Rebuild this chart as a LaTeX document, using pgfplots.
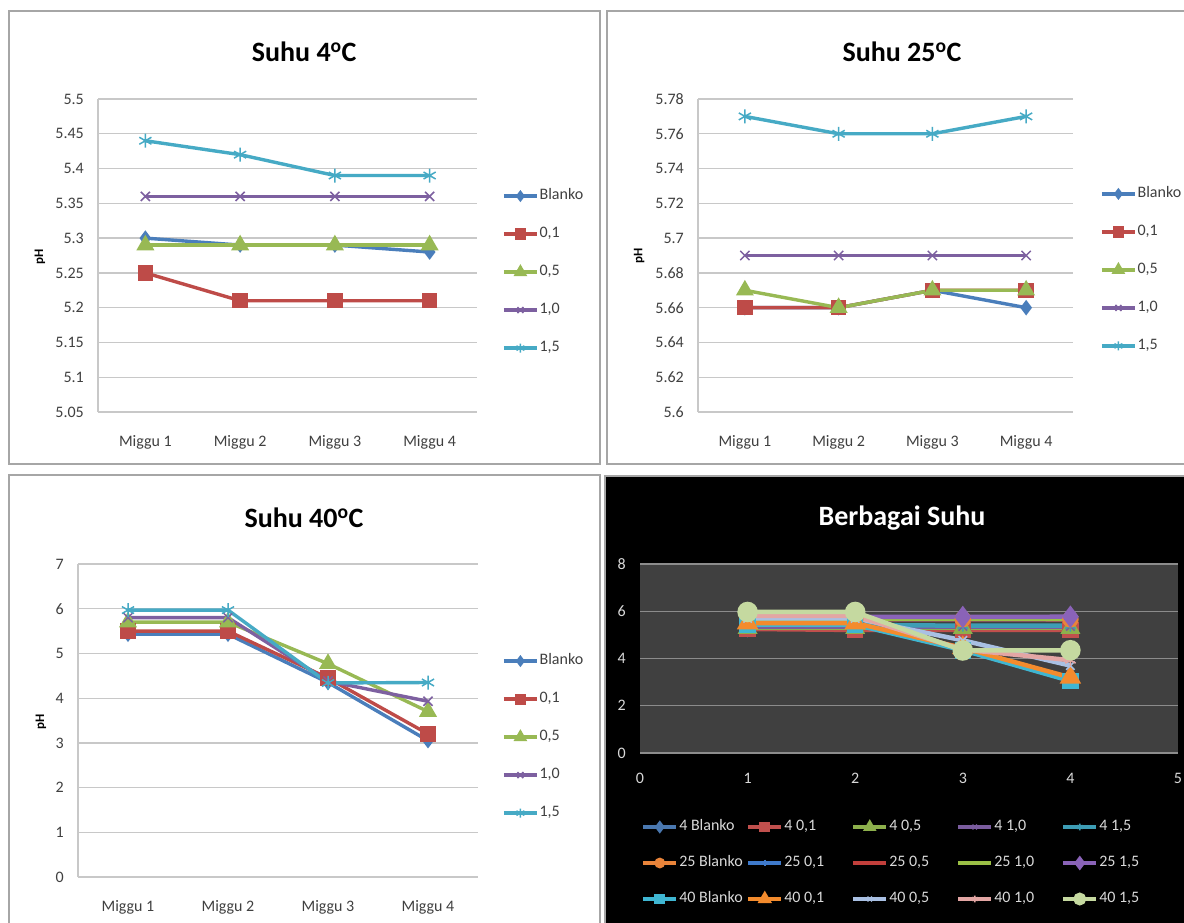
\documentclass[border=0pt]{standalone}
\usepackage{fontspec}
\setmainfont{Carlito}
\usepackage{pgfplots}
\pgfplotsset{compat=1.18}
\definecolor{cB}{HTML}{4A7EBB}
\definecolor{cR}{HTML}{BE4B48}
\definecolor{cG}{HTML}{98B954}
\definecolor{cP}{HTML}{7D60A0}
\definecolor{cA}{HTML}{46AAC5}
\definecolor{gridc}{HTML}{C8C8C8}
\definecolor{tickc}{HTML}{404040}
\definecolor{framec}{HTML}{A6A6A6}
\definecolor{plotbg}{HTML}{404040}
\definecolor{dgrid}{HTML}{8C8C8C}
\definecolor{dtext}{HTML}{D9D9D9}
\definecolor{d1}{HTML}{4A78B0}
\definecolor{d2}{HTML}{C0504D}
\definecolor{d3}{HTML}{8DB04C}
\definecolor{d4}{HTML}{7A5C9E}
\definecolor{d5}{HTML}{3D9DB5}
\definecolor{d6}{HTML}{E9843A}
\definecolor{d7}{HTML}{3F7ACB}
\definecolor{d8}{HTML}{C23F3B}
\definecolor{d9}{HTML}{9BC045}
\definecolor{d10}{HTML}{8A63B8}
\definecolor{d11}{HTML}{3FB6D2}
\definecolor{d12}{HTML}{F38B2D}
\definecolor{d13}{HTML}{A9C0E3}
\definecolor{d14}{HTML}{E3A6A4}
\definecolor{d15}{HTML}{C5D9A0}
\tikzset{plab/.style={font=\fontsize{13}{13}\selectfont\bfseries, text=black, anchor=center}}
\pgfplotsset{
  excel/.style={
    scale only axis, anchor=south west,
    axis x line*=bottom, axis y line*=left,
    axis line style={draw=gridc, line width=1.3pt, -},
    ymajorgrids, major grid style={draw=gridc, line width=1.3pt},
    tick style={draw=none},
    xmin=0.5, xmax=4.5, xtick={1,2,3,4},
    xticklabels={Miggu 1,Miggu 2,Miggu 3,Miggu 4},
    /pgf/number format/assume math mode=true,
    /pgf/number format/fixed, /pgf/number format/precision=2,
    ticklabel style={font=\fontsize{16}{16}\selectfont, text=tickc},
    yticklabel style={anchor=east, inner sep=0pt, xshift=-14pt},
    xticklabel style={anchor=north, inner sep=0pt, yshift=-23pt},
    ylabel={pH},
    title style={font=\fontsize{28}{28}\selectfont\bfseries, anchor=center},
    legend cell align=left,
    legend style={draw=none, fill=none, anchor=west, inner sep=0pt, row sep=23pt,
      font=\fontsize{16}{16}\selectfont, text=tickc,
      nodes={inner sep=1pt, text height=10pt, text depth=3pt}},
    legend image code/.code={\draw[mark repeat=2,mark phase=2, every mark/.append style={scale=0.65}] plot coordinates {(0pt,0pt) (16.5pt,0pt) (33pt,0pt)};},
  },
  sB/.style={color=cB, line width=3.4pt, mark=diamond*, mark size=5pt},
  sR/.style={color=cR, line width=3.4pt, mark=square*, mark size=6pt},
  sG/.style={color=cG, line width=3.4pt, mark=triangle*, mark size=7pt},
  sP/.style={color=cP, line width=3.4pt, mark=x, mark size=6.5pt, mark options={line width=1.5pt}},
  sA/.style={color=cA, line width=3.4pt, mark=asterisk, mark size=7pt, mark options={line width=1.5pt}},
  dl/.style={line width=4.5pt},
}
\begin{document}
\begin{tikzpicture}
\clip (0pt,0pt) rectangle (1184pt,-922pt);
\fill[white] (0pt,0pt) rectangle (1184pt,-922pt);
% frames
\draw[framec, line width=1.5pt] (9pt,-11pt) rectangle (600pt,-464pt);
\draw[framec, line width=1.5pt] (607pt,-11pt) rectangle (1195pt,-464pt);
\draw[framec, line width=1.5pt] (9pt,-475pt) rectangle (600pt,-935pt);
\draw[framec, line width=1.5pt, fill=black] (605pt,-476pt) rectangle (1195pt,-935pt);

% Panel 1
\begin{axis}[excel, at={(98pt,-412pt)}, width=379pt, height=313pt,
  ymin=5.05, ymax=5.5, ytick={5.05,5.1,5.15,5.2,5.25,5.3,5.35,5.4,5.45,5.5},
  title={Suhu 4\textsuperscript{o}C}, title style={at={(axis description cs:0.544,1.132)}},
  ylabel style={plab, at={(axis description cs:-0.153,0.495)}},
  legend style={at={(axis description cs:1.066,0.447)}}]
\addplot[sB] coordinates {(1,5.30) (2,5.29) (3,5.29) (4,5.28)};
\addplot[sR] coordinates {(1,5.25) (2,5.21) (3,5.21) (4,5.21)};
\addplot[sG] coordinates {(1,5.29) (2,5.29) (3,5.29) (4,5.29)};
\addplot[sP] coordinates {(1,5.36) (2,5.36) (3,5.36) (4,5.36)};
\addplot[sA] coordinates {(1,5.44) (2,5.42) (3,5.39) (4,5.39)};
\legend{Blanko,{0,1},{0,5},{1,0},{1,5}}
\end{axis}

% Panel 2
\begin{axis}[excel, at={(698pt,-412pt)}, width=375pt, height=313pt,
  ymin=5.6, ymax=5.78, ytick={5.6,5.62,5.64,5.66,5.68,5.7,5.72,5.74,5.76,5.78},
  title={Suhu 25\textsuperscript{o}C}, title style={at={(axis description cs:0.544,1.132)}},
  ylabel style={plab, at={(axis description cs:-0.157,0.50)}},
  legend style={at={(axis description cs:1.072,0.454)}}]
\addplot[sB] coordinates {(1,5.66) (2,5.66) (3,5.67) (4,5.66)};
\addplot[sR] coordinates {(1,5.66) (2,5.66) (3,5.67) (4,5.67)};
\addplot[sG] coordinates {(1,5.67) (2,5.66) (3,5.67) (4,5.67)};
\addplot[sP] coordinates {(1,5.69) (2,5.69) (3,5.69) (4,5.69)};
\addplot[sA] coordinates {(1,5.77) (2,5.76) (3,5.76) (4,5.77)};
\legend{Blanko,{0,1},{0,5},{1,0},{1,5}}
\end{axis}

% Panel 3
\begin{axis}[excel, at={(78pt,-877pt)}, width=400pt, height=313pt,
  ymin=0, ymax=7, ytick={0,1,2,3,4,5,6,7},
  title={Suhu 40\textsuperscript{o}C}, title style={at={(axis description cs:0.565,1.13)}},
  ylabel style={plab, at={(axis description cs:-0.0925,0.495)}},
  legend style={at={(axis description cs:1.06,0.447)}}]
\addplot[sB] coordinates {(1,5.43) (2,5.43) (3,4.35) (4,3.05)};
\addplot[sR] coordinates {(1,5.50) (2,5.50) (3,4.45) (4,3.20)};
\addplot[sG] coordinates {(1,5.70) (2,5.70) (3,4.77) (4,3.70)};
\addplot[sP] coordinates {(1,5.80) (2,5.80) (3,4.38) (4,3.93)};
\addplot[sA] coordinates {(1,5.97) (2,5.97) (3,4.34) (4,4.35)};
\legend{Blanko,{0,1},{0,5},{1,0},{1,5}}
\end{axis}

% Panel 4
\begin{axis}[at={(640pt,-753pt)}, anchor=south west, scale only axis, width=538pt, height=189pt,
  xmin=0, xmax=5, ymin=0, ymax=8, xtick={0,1,2,3,4,5}, ytick={0,2,4,6,8},
  axis background/.style={fill=plotbg},
  axis line style={draw=none},
  ymajorgrids, major grid style={draw=dgrid, line width=1.3pt},
  tick style={draw=none},
  /pgf/number format/assume math mode=true,
  ticklabel style={font=\fontsize{16}{16}\selectfont, text=dtext},
  yticklabel style={anchor=east, inner sep=0pt, xshift=-14pt},
  xticklabel style={anchor=north, inner sep=0pt, yshift=-20pt},
  title={Berbagai Suhu}, title style={font=\fontsize{28}{28}\selectfont\bfseries, text=white, anchor=center, at={(axis description cs:0.487,1.21)}},
  legend columns=5, legend cell align=left,
  legend style={draw=none, fill=none, anchor=west, inner sep=0pt, row sep=21pt,
    at={(axis description cs:0.002,-0.582)},
    font=\fontsize{16}{16}\selectfont, text=dtext,
    nodes={inner sep=1pt, text height=10pt, text depth=3pt}},
  legend image code/.code={\draw[mark repeat=2,mark phase=2, line width=4pt, every mark/.append style={scale=0.55}] plot coordinates {(0pt,0pt) (16.5pt,0pt) (33pt,0pt)};},
  ]
\addplot[dl, color=d1, mark=diamond*, mark size=6pt] coordinates {(1,5.30) (2,5.29) (3,5.29) (4,5.28)};
\addplot[dl, color=d2, mark=square*, mark size=6pt] coordinates {(1,5.25) (2,5.21) (3,5.21) (4,5.21)};
\addplot[dl, color=d3, mark=triangle*, mark size=7pt] coordinates {(1,5.29) (2,5.29) (3,5.29) (4,5.29)};
\addplot[dl, color=d4, mark=x, mark size=6pt, mark options={line width=1.6pt}] coordinates {(1,5.36) (2,5.36) (3,5.36) (4,5.36)};
\addplot[dl, color=d5, mark=asterisk, mark size=6pt, mark options={line width=1.6pt}] coordinates {(1,5.44) (2,5.42) (3,5.39) (4,5.39)};
\addplot[dl, color=d6, mark=*, mark size=6pt] coordinates {(1,5.66) (2,5.66) (3,5.67) (4,5.66)};
\addplot[dl, color=d7, mark=+, mark size=6pt, mark options={line width=1.6pt}] coordinates {(1,5.66) (2,5.66) (3,5.67) (4,5.67)};
\addplot[dl, color=d8, mark=-, mark size=6pt, mark options={line width=1.6pt}] coordinates {(1,5.67) (2,5.66) (3,5.67) (4,5.67)};
\addplot[dl, color=d9, mark=-, mark size=6pt, mark options={line width=1.6pt}] coordinates {(1,5.69) (2,5.69) (3,5.69) (4,5.69)};
\addplot[dl, color=d10, mark=diamond*, mark size=7.5pt] coordinates {(1,5.77) (2,5.76) (3,5.76) (4,5.77)};
\addplot[dl, color=d11, mark=square*, mark size=6pt] coordinates {(1,5.43) (2,5.43) (3,4.35) (4,3.05)};
\addplot[dl, color=d12, mark=triangle*, mark size=8pt] coordinates {(1,5.50) (2,5.50) (3,4.45) (4,3.20)};
\addplot[dl, color=d13, mark=x, mark size=6pt, mark options={line width=1.6pt}] coordinates {(1,5.70) (2,5.70) (3,4.77) (4,3.70)};
\addplot[dl, color=d14, mark=asterisk, mark size=6pt, mark options={line width=1.6pt}] coordinates {(1,5.80) (2,5.80) (3,4.38) (4,3.93)};
\addplot[dl, color=d15, mark=*, mark size=8pt] coordinates {(1,5.97) (2,5.97) (3,4.34) (4,4.35)};
\legend{\makebox[66pt][l]{4 Blanko},\makebox[66pt][l]{4 0,1},\makebox[66pt][l]{4 0,5},\makebox[66pt][l]{4 1,0},\makebox[66pt][l]{4 1,5},
  \makebox[66pt][l]{25 Blanko},\makebox[66pt][l]{25 0,1},\makebox[66pt][l]{25 0,5},\makebox[66pt][l]{25 1,0},\makebox[66pt][l]{25 1,5},
  \makebox[66pt][l]{40 Blanko},\makebox[66pt][l]{40 0,1},\makebox[66pt][l]{40 0,5},\makebox[66pt][l]{40 1,0},\makebox[66pt][l]{40 1,5}}
\end{axis}
\end{tikzpicture}
\end{document}
